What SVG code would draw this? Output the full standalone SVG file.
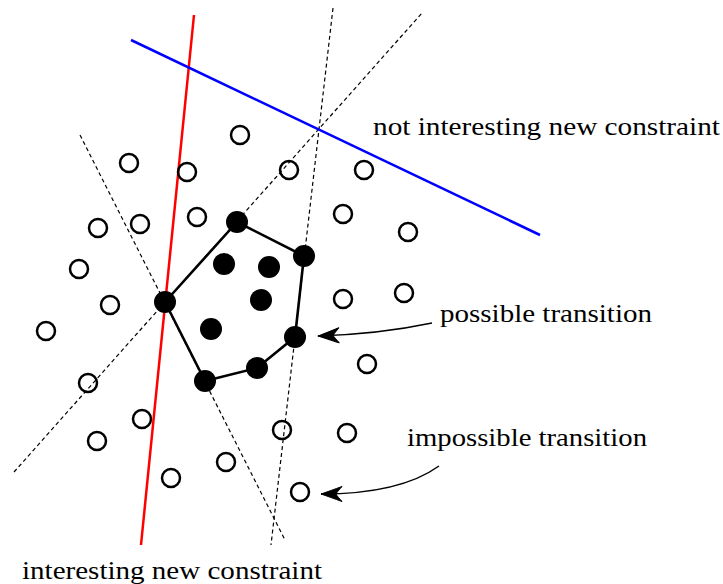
<svg xmlns="http://www.w3.org/2000/svg" width="723" height="584" viewBox="0 0 723 584">
<style>
.dash{fill:none;stroke:#000;stroke-width:1.2;stroke-dasharray:4 3}
.edge{fill:none;stroke:#000;stroke-width:2.6;stroke-linejoin:round}
.open{fill:none;stroke:#000;stroke-width:2.5}
.filled{fill:#000}
.lbl{font-family:"Liberation Serif","DejaVu Serif","Times New Roman",serif;font-size:25px;fill:#000}
.arr{fill:none;stroke:#000;stroke-width:1.5}
</style>
<defs>
<marker id="head" markerUnits="userSpaceOnUse" markerWidth="30" markerHeight="20" viewBox="-25 -10 30 20" refX="0" refY="0" orient="auto" overflow="visible">
<path d="M0,0 C-6,-2 -14,-5 -21,-7.5 C-18,-4 -16,-2 -15,0 C-16,2 -18,4 -21,7.5 C-14,5 -6,2 0,0 Z" fill="#000" stroke="#000" stroke-width="1" stroke-linejoin="round"/>
</marker>
</defs>
<g id="connectors">
<line class="dash" x1="80" y1="135" x2="285" y2="540"/>
<line class="dash" x1="14" y1="472" x2="422" y2="13"/>
<line class="dash" x1="333" y1="8" x2="271" y2="545"/>
<line x1="194" y1="15" x2="141" y2="545" stroke="#ff0000" stroke-width="2.5"/>
<line x1="131" y1="40" x2="540" y2="235" stroke="#0000ff" stroke-width="2.5"/>
<polygon class="edge" points="165,302 237,222 304,256 295,337 257,368 205,381"/>
<path class="arr" d="M432,323 Q380,334 318,336" marker-end="url(#head)"/>
<path class="arr" d="M439,466 Q400,494 321,494" marker-end="url(#head)"/>
</g>
<g id="open-points">
<circle class="open" cx="240" cy="135" r="9"/>
<circle class="open" cx="129" cy="163" r="9"/>
<circle class="open" cx="187" cy="172" r="9"/>
<circle class="open" cx="289" cy="170" r="9"/>
<circle class="open" cx="364" cy="170" r="9"/>
<circle class="open" cx="98" cy="228" r="9"/>
<circle class="open" cx="140" cy="224" r="9"/>
<circle class="open" cx="197" cy="217" r="9"/>
<circle class="open" cx="343" cy="214" r="9"/>
<circle class="open" cx="408" cy="232" r="9"/>
<circle class="open" cx="79" cy="269" r="9"/>
<circle class="open" cx="110" cy="305" r="9"/>
<circle class="open" cx="343" cy="299" r="9"/>
<circle class="open" cx="404" cy="293" r="9"/>
<circle class="open" cx="46" cy="331" r="9"/>
<circle class="open" cx="88" cy="383" r="9"/>
<circle class="open" cx="367" cy="364" r="9"/>
<circle class="open" cx="142" cy="419" r="9"/>
<circle class="open" cx="97" cy="441" r="9"/>
<circle class="open" cx="282" cy="430" r="9"/>
<circle class="open" cx="347" cy="433" r="9"/>
<circle class="open" cx="226" cy="462" r="9"/>
<circle class="open" cx="171" cy="478" r="9"/>
<circle class="open" cx="300" cy="492" r="9"/>
</g>
<g id="hull-points">
<circle class="filled" cx="237" cy="222" r="11"/>
<circle class="filled" cx="304" cy="256" r="11"/>
<circle class="filled" cx="295" cy="337" r="11"/>
<circle class="filled" cx="257" cy="368" r="11"/>
<circle class="filled" cx="205" cy="381" r="11"/>
<circle class="filled" cx="165" cy="302" r="11"/>
</g>
<g id="inner-points">
<circle class="filled" cx="224" cy="264" r="11"/>
<circle class="filled" cx="269" cy="267" r="11"/>
<circle class="filled" cx="261" cy="300" r="11"/>
<circle class="filled" cx="211" cy="329" r="11"/>
</g>
<g id="labels">
<text class="lbl" x="373" y="135" textLength="347" lengthAdjust="spacingAndGlyphs">not interesting new constraint</text>
<text class="lbl" x="440" y="322" textLength="212" lengthAdjust="spacingAndGlyphs">possible transition</text>
<text class="lbl" x="407" y="446" textLength="240" lengthAdjust="spacingAndGlyphs">impossible transition</text>
<text class="lbl" x="22" y="579" textLength="300" lengthAdjust="spacingAndGlyphs">interesting new constraint</text>
</g>
</svg>
